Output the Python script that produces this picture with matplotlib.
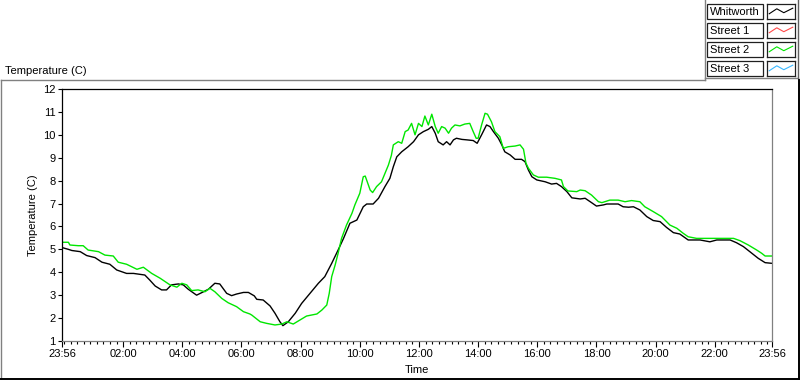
import numpy as np
import matplotlib.pyplot as plt
from matplotlib.patches import Rectangle
from matplotlib.lines import Line2D

plt.rcParams['font.family'] = ['Liberation Sans', 'DejaVu Sans']
plt.rcParams['font.size'] = 8

# time in minutes after 23:56, temperature in C
wh_min = [0, 13, 20, 37, 50, 67, 81, 97, 111, 131, 145, 168, 178, 189, 202, 212,
          222, 236, 246, 256, 273, 287, 297, 310, 320, 334, 344, 354, 368, 378,
          390, 395, 408, 422, 432, 442, 448, 459, 473, 486, 503, 520, 533, 547,
          560, 571, 584, 598, 611, 618, 631, 642, 655, 665, 672, 679, 689, 702,
          713, 723, 733, 743, 750, 757, 763, 773, 780, 787, 794, 800, 811, 821,
          834, 842, 851, 861, 868, 875, 885, 892, 898, 909, 919, 932, 939, 946,
          953, 963, 980, 993, 1003, 1013, 1024, 1034, 1051, 1061, 1074, 1084,
          1098, 1105, 1128, 1138, 1149, 1159, 1172, 1186, 1199, 1213, 1226, 1240,
          1253, 1270, 1294, 1314, 1328, 1355, 1368, 1382, 1395, 1412, 1426, 1440]
wh_temp = [5.08, 5.0, 4.95, 4.9, 4.73, 4.64, 4.44, 4.35, 4.1, 3.95, 3.95, 3.88,
           3.66, 3.4, 3.23, 3.23, 3.45, 3.49, 3.45, 3.26, 3.0, 3.15, 3.26, 3.52,
           3.49, 3.08, 2.98, 3.05, 3.12, 3.12, 2.97, 2.82, 2.79, 2.53, 2.21, 1.84,
           1.67, 1.84, 2.21, 2.64, 3.08, 3.52, 3.81, 4.39, 4.97, 5.48, 6.14, 6.28,
           6.86, 6.98, 6.98, 7.23, 7.74, 8.1, 8.61, 9.04, 9.26, 9.48, 9.7, 10.0,
           10.14, 10.24, 10.36, 10.07, 9.7, 9.56, 9.7, 9.56, 9.78, 9.85, 9.8,
           9.78, 9.75, 9.63, 10.0, 10.43, 10.36, 10.14, 9.85, 9.56, 9.26, 9.12,
           8.93, 8.93, 8.83, 8.46, 8.17, 8.03, 7.95, 7.85, 7.88, 7.74, 7.52, 7.25,
           7.2, 7.23, 7.04, 6.89, 6.94, 6.98, 6.98, 6.86, 6.84, 6.86, 6.72, 6.43,
           6.26, 6.21, 5.96, 5.73, 5.67, 5.41, 5.41, 5.33, 5.41, 5.41, 5.29, 5.12,
           4.9, 4.61, 4.42, 4.39]

s2_min = [0, 13, 16, 33, 43, 53, 74, 87, 104, 114, 131, 152, 165, 182, 199, 219,
          233, 243, 253, 263, 276, 290, 300, 310, 324, 337, 354, 368, 381, 385,
          402, 415, 432, 446, 456, 469, 483, 496, 517, 527, 537, 542, 547, 554,
          560, 567, 577, 588, 594, 604, 611, 615, 625, 630, 638, 648, 655, 662,
          668, 672, 682, 689, 696, 702, 709, 716, 723, 730, 736, 743, 750, 757,
          763, 770, 777, 784, 790, 797, 807, 817, 827, 834, 840, 844, 851, 858,
          863, 871, 878, 888, 895, 905, 919, 929, 936, 941, 946, 956, 966, 983,
          1000, 1013, 1017, 1026, 1044, 1051, 1061, 1074, 1088, 1095, 1111, 1128,
          1142, 1155, 1172, 1182, 1199, 1216, 1233, 1247, 1260, 1270, 1287, 1362,
          1375, 1392, 1409, 1419, 1426, 1440]
s2_temp = [5.31, 5.31, 5.19, 5.16, 5.16, 4.97, 4.9, 4.75, 4.71, 4.44, 4.35, 4.13,
           4.22, 3.95, 3.74, 3.45, 3.35, 3.52, 3.45, 3.2, 3.23, 3.15, 3.3, 3.15,
           2.86, 2.67, 2.5, 2.28, 2.18, 2.13, 1.84, 1.77, 1.7, 1.74, 1.84, 1.74,
           1.92, 2.09, 2.18, 2.35, 2.57, 3.08, 3.81, 4.32, 4.83, 5.48, 6.06, 6.57,
           6.94, 7.45, 8.17, 8.2, 7.59, 7.48, 7.74, 7.95, 8.32, 8.68, 9.1, 9.56,
           9.7, 9.63, 10.14, 10.21, 10.5, 10.0, 10.5, 10.36, 10.82, 10.43, 10.9,
           10.36, 10.07, 10.36, 10.29, 10.07, 10.29, 10.43, 10.39, 10.47, 10.5,
           10.14, 9.85, 9.85, 10.43, 10.94, 10.9, 10.57, 10.14, 9.92, 9.41, 9.48,
           9.51, 9.56, 9.37, 8.76, 8.54, 8.25, 8.15, 8.15, 8.1, 8.03, 7.74, 7.55,
           7.52, 7.59, 7.56, 7.37, 7.08, 7.04, 7.15, 7.15, 7.08, 7.13, 7.08, 6.86,
           6.65, 6.43, 6.06, 5.92, 5.7, 5.55, 5.48, 5.48, 5.38, 5.19, 4.97, 4.83,
           4.71, 4.71]

tick_labels = ['23:56', '02:00', '04:00', '06:00', '08:00', '10:00', '12:00',
               '14:00', '16:00', '18:00', '20:00', '22:00', '23:56']
series_names = ['Whitworth', 'Street 1', 'Street 2', 'Street 3']
series_colors = ['black', '#ff4a4a', '#00e600', '#38b8ff']

W, H = 800, 380
fig = plt.figure(figsize=(W / 100, H / 100), dpi=100)
fig.patch.set_facecolor('white')


def fx(px):
    return px / W


def fy(py):
    return 1 - py / H


ax = fig.add_axes([fx(62), fy(341), fx(772) - fx(62), fy(89) - fy(341)])
ax.plot(wh_min, wh_temp, color=series_colors[0], lw=1.0)
ax.plot(s2_min, s2_temp, color=series_colors[2], lw=1.0)

ax.set_xlim(0, 1440)
ax.set_ylim(1, 12)
ax.set_yticks(range(1, 13))
major = [0] + [124 + 120 * i for i in range(11)] + [1440]
ax.set_xticks(major)
ax.set_xticklabels(tick_labels)
ax.set_xticks(np.arange(4, 1440, 40 / 3), minor=True)
ax.tick_params(axis='y', length=3, width=0.8, pad=1.5, colors='black')
ax.tick_params(axis='x', which='major', length=4, width=0.8, pad=1.5)
ax.tick_params(axis='x', which='minor', length=2.5, width=0.8)

ax.spines['top'].set_color('black')
ax.spines['left'].set_color('black')
ax.spines['right'].set_color('#808080')
ax.spines['bottom'].set_color('#808080')
for s in ax.spines.values():
    s.set_linewidth(0.9)

ax.set_ylabel('Temperature (C)')
ax.yaxis.set_label_coords(-0.041, 0.5)
ax.set_xlabel('Time')
ax.xaxis.set_label_coords(0.5, -0.115)
ax.xaxis.label.set_va('center')
ax.yaxis.label.set_va('center')

fig.text(fx(5), fy(71), 'Temperature (C)', ha='left', va='center')

# outer frame
def fline(x0, y0, x1, y1, color, lw=1.0):
    fig.add_artist(Line2D([fx(x0), fx(x1)], [fy(y0), fy(y1)], color=color,
                          lw=lw, transform=fig.transFigure))

fline(0.5, 80, 0.5, 379, '#808080')
fline(0.5, 80, 705, 80, '#808080')
fline(705, 0, 705, 80, '#808080')
fline(705, 77.5, 798, 77.5, '#808080')
fline(797.5, 0, 797.5, 78, '#606060')
fline(0, 378.5, 800, 378.5, 'black', 1.4)
fline(799.3, 80, 799.3, 379, 'black', 1.4)

# legend
row_tops = [4, 23, 42, 61]
zig_x = [0.08, 0.35, 0.6, 0.92]
zig_y = [0.35, 0.68, 0.42, 0.72]
for name, color, top in zip(series_names, series_colors, row_tops):
    fig.add_artist(Rectangle((fx(707), fy(top + 15)), fx(56), 15 / H,
                             fill=False, edgecolor='#202020', lw=0.9,
                             transform=fig.transFigure))
    fig.text(fx(710), fy(top + 7.8), name, ha='left', va='center')
    lax = fig.add_axes([fx(767), fy(top + 15), fx(28), 15 / H])
    lax.set_xlim(0, 1)
    lax.set_ylim(0, 1)
    lax.set_xticks([])
    lax.set_yticks([])
    for s in lax.spines.values():
        s.set_color('#202020')
        s.set_linewidth(0.9)
    lax.plot(zig_x, zig_y, color=color, lw=0.8)

fig.savefig('out.png', dpi=100)
